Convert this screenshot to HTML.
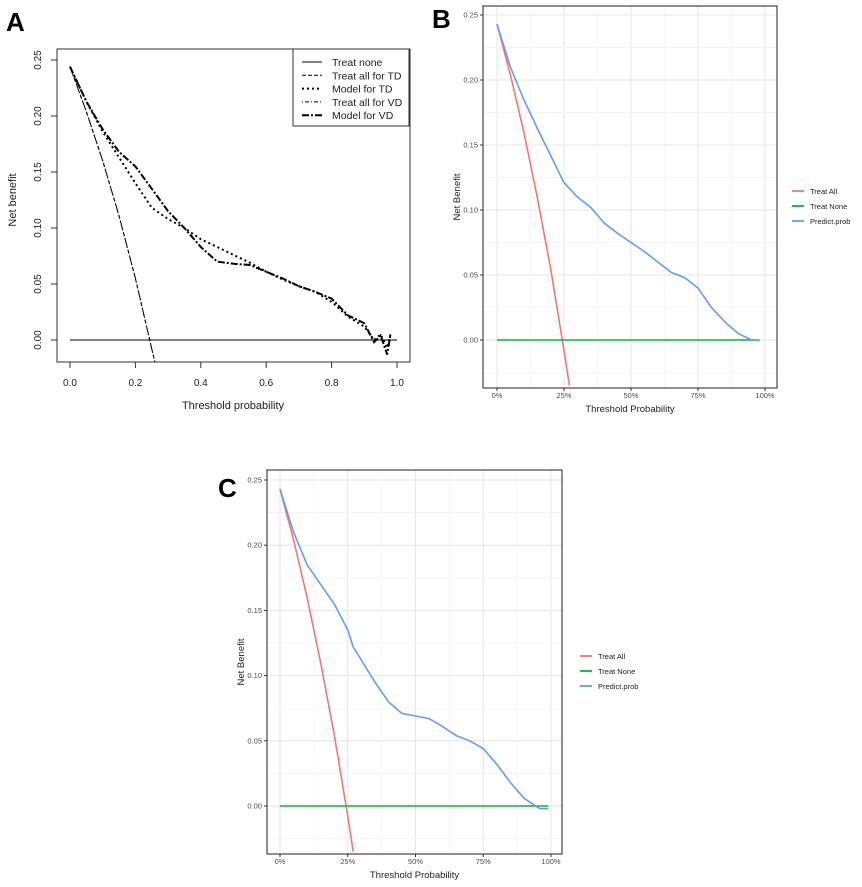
<!DOCTYPE html>
<html><head><meta charset="utf-8">
<style>
html,body{margin:0;padding:0;background:#fff;}
svg{display:block;font-family:"Liberation Sans",sans-serif;}
</style></head>
<body>
<svg id="fig" width="862" height="887" viewBox="0 0 862 887" xmlns="http://www.w3.org/2000/svg"></svg>
<script>
// Panel A data
const aX = [0,0.05,0.1,0.15,0.2,0.25,0.3,0.35,0.4,0.45,0.5,0.55,0.6,0.65,0.7,0.75,0.8,0.85,0.9,0.93,0.95,0.97,0.98];
const aModelTD = [0.244,0.213,0.186,0.163,0.14,0.118,0.108,0.100,0.090,0.083,0.076,0.069,0.061,0.054,0.048,0.043,0.034,0.021,0.012,0.0,0.005,-0.007,0.005];
const aModelVD = [0.244,0.213,0.188,0.168,0.155,0.135,0.115,0.100,0.083,0.070,0.068,0.067,0.061,0.055,0.048,0.043,0.037,0.022,0.015,-0.002,0.004,-0.013,0.005];
const aAllX = [0,0.05,0.1,0.15,0.2,0.25,0.26];
const aAllY = [0.244,0.204,0.160,0.111,0.055,-0.008,-0.02];
const aXTicks = [0,0.2,0.4,0.6,0.8,1.0];
const aXTickLabels = ["0.0","0.2","0.4","0.6","0.8","1.0"];
const aYTicks = [0,0.05,0.1,0.15,0.2,0.25];
const aYTickLabels = ["0.00","0.05","0.10","0.15","0.20","0.25"];
// Panel B data
const bX = [0,0.05,0.1,0.15,0.2,0.25,0.3,0.35,0.4,0.45,0.5,0.55,0.6,0.65,0.7,0.75,0.8,0.85,0.9,0.95,0.98];
const bPred = [0.243,0.21,0.185,0.163,0.142,0.121,0.110,0.102,0.090,0.082,0.075,0.068,0.060,0.052,0.048,0.040,0.025,0.014,0.005,0.0,-0.0005];
const bAllX = [0,0.05,0.1,0.15,0.2,0.25,0.27];
const bAllY = [0.243,0.204,0.16,0.11,0.055,-0.008,-0.035];
// Panel C data
const cX = [0,0.05,0.1,0.15,0.2,0.25,0.27,0.3,0.35,0.4,0.45,0.5,0.55,0.6,0.65,0.7,0.75,0.8,0.85,0.9,0.95,0.96,0.99];
const cPred = [0.243,0.21,0.185,0.170,0.155,0.135,0.122,0.112,0.095,0.080,0.071,0.069,0.067,0.061,0.054,0.050,0.044,0.032,0.018,0.006,-0.001,-0.002,-0.002];
const cAllX = [0,0.05,0.1,0.15,0.2,0.25,0.27];
const cAllY = [0.243,0.204,0.16,0.11,0.055,-0.008,-0.035];
const pctTicks = [0,0.25,0.5,0.75,1.0];
const pctLabels = ["0%","25%","50%","75%","100%"];
const ggYTicks = [0,0.05,0.1,0.15,0.2,0.25];
const ggYLabels = ["0.00","0.05","0.10","0.15","0.20","0.25"];
const legendNames = ["Treat All","Treat None","Predict.prob"];
const legendANames = ["Treat none","Treat all for TD","Model for TD","Treat all for VD","Model for VD"];

const NS="http://www.w3.org/2000/svg";
const svg=document.getElementById('fig');
function mk(tag,attrs,parent,text){const e=document.createElementNS(NS,tag);for(const k in attrs)e.setAttribute(k,attrs[k]);if(text!==undefined)e.textContent=text;(parent||svg).appendChild(e);return e;}
function scale(d0,d1,r0,r1){return v=>r0+(v-d0)*(r1-r0)/(d1-d0);}
function pathD(xs,ys,sx,sy){return xs.map((x,i)=>(i?'L':'M')+sx(x).toFixed(1)+','+sy(ys[i]).toFixed(1)).join(' ');}

// ---------- Panel A ----------
(function(){
  const g=mk('g',{});
  
  
  const sx=scale(0,1,70,397), sy=scale(0,0.25,340,60);
  const t=mk('text',{x:6,y:31,'font-size':26,'font-weight':'bold'},g,'A');
  
  const clip=mk('clipPath',{id:'clipA'},g);mk('rect',{x:57,y:49,width:353,height:313},clip);
  const lines=mk('g',{'clip-path':'url(#clipA)',fill:'none',stroke:'#000'},g);
  let p=mk('line',{x1:sx(0),x2:sx(1),y1:sy(0),y2:sy(0),'stroke-width':1},lines);
  
  p=mk('path',{d:pathD(aAllX,aAllY,sx,sy),'stroke-width':1,'stroke-dasharray':'4 2'},lines);
  
  p=mk('path',{d:pathD(aAllX,aAllY,sx,sy),'stroke-width':1,'stroke-dasharray':'1 2 4 2'},lines);
  
  p=mk('path',{d:pathD(aX,aModelTD,sx,sy),'stroke-width':2,'stroke-dasharray':'2 3'},lines);
  
  p=mk('path',{d:pathD(aX,aModelVD,sx,sy),'stroke-width':2,'stroke-dasharray':'7 2 2 2'},lines);
  
  const box=mk('rect',{x:57,y:49,width:353,height:313,fill:'none',stroke:'#333','stroke-width':1},g);
  
  aXTicks.forEach((v,i)=>{mk('line',{x1:sx(v),x2:sx(v),y1:362,y2:368,stroke:'#333'},g);
    const l=mk('text',{x:sx(v),y:386,'font-size':10,'text-anchor':'middle',fill:'#222'},g,aXTickLabels[i]);
    });
  aYTicks.forEach((v,i)=>{mk('line',{x1:51,x2:57,y1:sy(v),y2:sy(v),stroke:'#333'},g);
    const l=mk('text',{x:0,y:0,'font-size':10,'text-anchor':'middle',fill:'#222',transform:`translate(41,${sy(v)}) rotate(-90)`},g,aYTickLabels[i]);
    });
  let l=mk('text',{x:233,y:409,'font-size':11,'text-anchor':'middle',fill:'#222'},g,'Threshold probability');
  
  l=mk('text',{x:0,y:0,'font-size':11,'text-anchor':'middle',fill:'#222',transform:'translate(16,200) rotate(-90)'},g,'Net benefit');
  
  const lg=mk('g',{},g);
  mk('rect',{x:293,y:49,width:116,height:77,fill:'#fff',stroke:'#333'},lg);
  const dashes=[['none',1],['4 2',1],['2 3',2],['1 2 4 2',1],['7 2 2 2',2]];
  legendANames.forEach((n,i)=>{const y=62+i*13.3;
    mk('line',{x1:302,x2:322,y1:y,y2:y,stroke:'#000','stroke-width':dashes[i][1],'stroke-dasharray':dashes[i][0]},lg);
    const e=mk('text',{x:332,y:y+4,'font-size':10.5,fill:'#222'},lg,n);
    });
})();

// ---------- ggplot panels ----------
function ggPanel(name,letter,lx,ly,L,R,T,B,x0px,x100px,y0px,y25px,xs,pred,allX,allY,legX,legY,titleY){
  const g=mk('g',{});
  
  
  const sx=scale(0,1,x0px,x100px), sy=scale(0,0.25,y0px,y25px);
  const t=mk('text',{x:lx,y:ly,'font-size':26,'font-weight':'bold'},g,letter);
  
  const cid='clip'+letter;
  const clip=mk('clipPath',{id:cid},g);mk('rect',{x:L,y:T,width:R-L,height:B-T},clip);
  const grid=mk('g',{'clip-path':`url(#${cid})`},g);
  
  for(let v=-0.125;v<=1.2;v+=0.125){const major=Math.abs(v*4-Math.round(v*4))<1e-6;
    mk('line',{x1:sx(v),x2:sx(v),y1:T,y2:B,stroke:major?'#e6e6e6':'#f2f2f2','stroke-width':major?1:0.7},grid);}
  for(let v=-0.05;v<=0.3;v+=0.025){const major=Math.abs(v*20-Math.round(v*20))<1e-6;
    mk('line',{x1:L,x2:R,y1:sy(v),y2:sy(v),stroke:major?'#e6e6e6':'#f2f2f2','stroke-width':major?1:0.7},grid);}
  const lines=mk('g',{'clip-path':`url(#${cid})`,fill:'none','stroke-width':1.6},g);
  let p=mk('path',{d:pathD(allX,allY,sx,sy),stroke:'#F8766D'},lines);
  
  p=mk('line',{x1:sx(0),x2:sx(xs[xs.length-1]),y1:sy(0),y2:sy(0),stroke:'#00BA38'},lines);
  
  p=mk('path',{d:pathD(xs,pred,sx,sy),stroke:'#619CFF'},lines);
  
  const box=mk('rect',{x:L,y:T,width:R-L,height:B-T,fill:'none',stroke:'#333','stroke-width':1.1},g);
  
  pctTicks.forEach((v,i)=>{mk('line',{x1:sx(v),x2:sx(v),y1:B,y2:B+3,stroke:'#333'},g);
    const l=mk('text',{x:sx(v),y:B+10,'font-size':7.5,'text-anchor':'middle',fill:'#4d4d4d'},g,pctLabels[i]);
    });
  ggYTicks.forEach((v,i)=>{mk('line',{x1:L-3,x2:L,y1:sy(v),y2:sy(v),stroke:'#333'},g);
    const l=mk('text',{x:L-5,y:sy(v)+2.5,'font-size':7.5,'text-anchor':'end',fill:'#4d4d4d'},g,ggYLabels[i]);
    });
  let l=mk('text',{x:(L+R)/2,y:titleY,'font-size':9.5,'text-anchor':'middle',fill:'#222'},g,'Threshold Probability');
  
  l=mk('text',{x:0,y:0,'font-size':9.5,'text-anchor':'middle',fill:'#222',transform:`translate(${L-23},${(T+B)/2}) rotate(-90)`},g,'Net Benefit');
  
  const lg=mk('g',{},g);
  const cols=['#F8766D','#00BA38','#619CFF'];
  legendNames.forEach((n,i)=>{const y=legY+i*15;
    mk('line',{x1:legX,x2:legX+12,y1:y,y2:y,stroke:cols[i],'stroke-width':1.8},lg);
    const e=mk('text',{x:legX+18,y:y+3,'font-size':7.5,fill:'#222'},lg,n);
    });
}
ggPanel('panel-b','B',432,28,483,777,6,388,497,765,340,15,bX,bPred,bAllX,bAllY,792,191,412);
ggPanel('panel-c','C',218,497,267,562,470,854,280,551,806,480,cX,cPred,cAllX,cAllY,580,656,878);
</script>
</body></html>
